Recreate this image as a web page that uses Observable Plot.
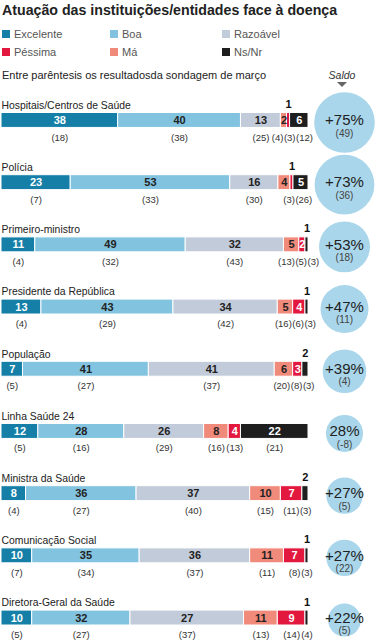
<!DOCTYPE html>
<html><head><meta charset="utf-8">
<script src="https://cdn.jsdelivr.net/npm/d3@7"></script>
<script src="https://cdn.jsdelivr.net/npm/@observablehq/plot@0.6"></script>
<style>
body{margin:0;background:#fff;font-family:"Liberation Sans",Arial,sans-serif;color:#222;}
#wrap{width:375px;}
#head{position:relative;height:90px;}
.title{position:absolute;left:2px;top:1px;font-weight:bold;font-size:14.2px;line-height:18px;color:#222;white-space:nowrap;}
#legend{position:absolute;left:2px;top:25px;display:grid;grid-template-columns:108px 112px 120px;grid-auto-rows:18px;}
.li{display:flex;align-items:center;font-size:11px;color:#555;}
.sw{width:8px;height:8px;margin-right:4px;}
.sub{position:absolute;left:2px;top:68px;font-size:11px;line-height:14px;white-space:nowrap;}
.saldo{position:absolute;left:322px;width:40px;text-align:center;top:68px;font-size:10.5px;line-height:14px;font-style:italic;color:#333;}
.tri{position:absolute;left:337px;top:82px;width:0;height:0;border-left:5px solid transparent;border-right:5px solid transparent;border-top:5px solid #666;}
#chart svg{display:block;}
</style></head><body>
<div id="wrap">
<div id="head">
<div class="title">Atuação das instituições/entidades face à doença</div>
<div id="legend"></div>
<div class="sub">Entre parêntesis os resultadosda sondagem de março</div>
<div class="saldo">Saldo</div><div class="tri"></div>
</div>
<div id="chart"></div>
</div>
<script>
const rows = ["Hospitais/Centros de Saúde","Polícia","Primeiro-ministro","Presidente da República","População","Linha Saúde 24","Ministra da Saúde","Comunicação Social","Diretora-Geral da Saúde"];
const categories = ["Excelente","Boa","Razoável","Má","Péssima","Ns/Nr"];
const colors = ["#157fa8","#82c3e0","#c2cbd9","#f08a7a","#e2183f","#1e1e1e"];
const legendOrder = ["Excelente","Boa","Razoável","Péssima","Má","Ns/Nr"];

// current survey values (%)
const excelente = [38,23,11,13,7,12,8,10,10];
const boa       = [40,53,49,43,41,28,36,35,32];
const razoavel  = [13,16,32,34,41,26,37,36,37];
const ma        = [2,4,5,5,6,8,10,11,11];
const pessima   = [1,1,2,4,3,4,7,7,9];
const nsnr      = [6,5,1,1,2,22,2,1,1];
// printed label that differs from the bar value in the original graphic
const printedOverride = {"Diretora-Geral da Saúde|Razoável": "27"};

// March survey values (in parentheses)
const marExcelente = [18,7,4,4,5,5,4,7,5];
const marBoa       = [38,33,32,29,27,16,27,34,27];
const marRazoavel  = [25,30,43,42,37,29,40,37,37];
const marMa        = [4,null,13,16,20,16,15,11,13];
const marPessima   = [3,3,5,6,8,13,11,8,14];
const marNsnr      = [12,26,3,3,3,21,3,3,4];

// balance (Saldo)
const saldo = [75,73,53,47,39,28,27,27,22];
const saldoLabels = ["+75%","+73%","+53%","+47%","+39%","28%","+27%","+27%","+22%"];
const saldoMarch = [49,36,18,11,4,-8,5,22,5];

// legend
const leg = document.getElementById("legend");
legendOrder.forEach(c => {
  const d = document.createElement("div"); d.className = "li";
  d.innerHTML = `<span class="sw" style="background:${colors[categories.indexOf(c)]}"></span>${c}`;
  leg.appendChild(d);
});

const series = [excelente,boa,razoavel,ma,pessima,nsnr];
const marSeries = [marExcelente,marBoa,marRazoavel,marMa,marPessima,marNsnr];

const W = 375, H = 550, mL = 1, mR = 67;
const P = W - mL - mR;
const ctx = document.createElement("canvas").getContext("2d");
ctx.font = "9.5px 'Liberation Sans'";
const GAP = 0.5;

const segs = [];
rows.forEach((row, i) => {
  const total = d3.sum(series, s => s[i]);
  let cum = 0;
  const items = [];
  categories.forEach((cat, j) => {
    const v = series[j][i];
    const d = {row, cat, value: v, x1: cum/total, x2: (cum+v)/total, march: marSeries[j][i],
      text: printedOverride[row + "|" + cat] ?? String(v)};
    d.mid = (d.x1 + d.x2)/2;
    d.above = v <= 1 || (cat === "Ns/Nr" && v <= 2);
    cum += v;
    segs.push(d);
    if (d.march != null) items.push({d, c: d.mid*P, w: ctx.measureText(`(${d.march})`).width});
  });
  // 1-D cluster dodge for the parenthesised labels
  const layout = cl => {
    let t = 0; cl.offs = [];
    cl.items.forEach((it, k) => { cl.offs.push(t + it.w/2); t += it.w + (k < cl.items.length-1 ? GAP : 0); });
    cl.start = d3.mean(cl.items, it => it.c) - d3.mean(cl.offs);
    cl.end = cl.start + t;
  };
  const clusters = items.map(it => ({items:[it]}));
  clusters.forEach(layout);
  let merged = true;
  while (merged) {
    merged = false;
    for (let k = 0; k < clusters.length-1; k++) {
      if (clusters[k].end + GAP > clusters[k+1].start) {
        clusters[k].items = clusters[k].items.concat(clusters[k+1].items);
        clusters.splice(k+1, 1); layout(clusters[k]); merged = true; break;
      }
    }
  }
  clusters.forEach(cl => cl.items.forEach((it, k) => it.d.px = (cl.start + cl.offs[k]) / P));
});

const rowData = rows.map((row, i) => ({row, saldo: saldo[i], label: saldoLabels[i], march: saldoMarch[i]}));
const whiteText = new Set(["Excelente","Péssima","Ns/Nr"]);

const chart = Plot.plot({
  width: W, height: H,
  marginLeft: mL, marginRight: mR, marginTop: 22.5, marginBottom: 15,
  style: {fontFamily: "'Liberation Sans', Arial, sans-serif", background: "white"},
  x: {domain: [0, 1], axis: null},
  y: {type: "band", domain: rows, paddingInner: 0.76, paddingOuter: 0, round: false, axis: null},
  color: {domain: categories, range: colors},
  r: {domain: [0, 100], range: [0, 35]},
  marks: [
    Plot.dot(rowData, {y: "row", r: "saldo", frameAnchor: "right", dx: 36, dy: 2, fill: "#a9d6ea"}),
    Plot.text(rowData, {y: "row", frameAnchor: "right", textAnchor: "middle", dx: 36, dy: 0, text: "label", fontSize: 15, fill: "#222"}),
    Plot.text(rowData, {y: "row", frameAnchor: "right", textAnchor: "middle", dx: 36, dy: 13, text: d => `(${d.march})`, fontSize: 10, fill: "#444"}),
    Plot.text(rowData, {y: "row", frameAnchor: "left", textAnchor: "start", dy: -15, text: "row", fontSize: 10.4, fill: "#222"}),
    Plot.barX(segs, {x1: "x1", x2: "x2", y: "row", fill: "cat", stroke: "white", strokeWidth: 1}),
    Plot.text(segs.filter(d => !d.above), {x: "mid", y: "row", text: "text", fontSize: 11, fontWeight: "bold",
      fill: d => whiteText.has(d.cat) ? "white" : "#222"}),
    Plot.text(segs.filter(d => d.above), {x: "mid", y: "row", dy: -16, text: "text", fontSize: 11, fontWeight: "bold", fill: "#111"}),
    Plot.text(segs.filter(d => d.march != null), {x: "px", y: "row", dy: 17, text: d => `(${d.march})`, fontSize: 9.5, fill: "#333"})
  ]
});
document.getElementById("chart").appendChild(chart);
</script>
</body></html>
